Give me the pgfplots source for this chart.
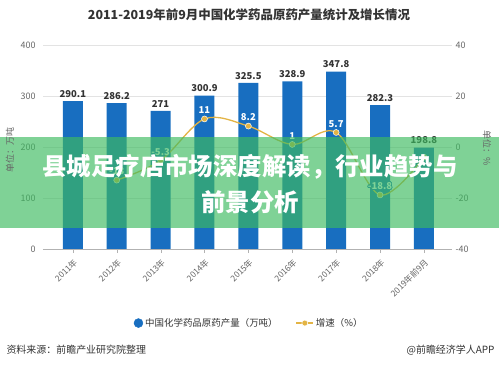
\documentclass[border=0pt]{standalone}
\usepackage{pgfplots}
\pgfplotsset{compat=1.18}
\usepackage{fontspec}
\setmainfont{Noto Sans CJK SC}
\usepackage{contour}
\contourlength{0.7pt}
\definecolor{barblue}{HTML}{186EC0}
\definecolor{linegold}{HTML}{E3B445}
\definecolor{bannergreen}{RGB}{61,187,96}
\definecolor{txtdark}{HTML}{333333}
\definecolor{ticktxt}{HTML}{666666}
\begin{document}
\begin{tikzpicture}
\path[use as bounding box] (0bp,0bp) rectangle (499bp,367bp);
\begin{axis}[
  at={(43bp,118bp)}, anchor=south west, scale only axis,
  width=409bp, height=204bp,
  xmin=-0.68, xmax=8.64, ymin=0, ymax=400,
  ytick={0,100,200,300,400},
  xtick={0,...,8},
  xticklabels={2011年,2012年,2013年,2014年,2015年,2016年,2017年,2018年,2019年前9月},
  x tick label style={rotate=45, anchor=north east, font=\fontsize{8.5}{9}\selectfont, text=ticktxt},
  y tick label style={font=\fontsize{9}{10}\selectfont, text=ticktxt},
  /pgf/number format/assume math mode=true,
  ymajorgrids, grid style={draw=gray!22, line width=0.6bp},
  axis x line*=bottom, axis y line*=left,
  y axis line style={draw=none},
  x axis line style={draw=gray!60, line width=0.8bp},
  ytick style={draw=none},
  xtick style={draw=gray!60},
  tick align=outside, major tick length=4bp,
  ybar, bar width=20bp,
  nodes near coords,
  every node near coord/.append style={font=\bfseries\fontsize{9.5}{10}\selectfont, text=txtdark},
]
\addplot[fill=barblue, draw=none] coordinates {
  (0,290.1) (1,286.2) (2,271) (3,300.9) (4,325.5) (5,328.9) (6,347.8) (7,282.3) (8,198.8)};
\end{axis}
\begin{axis}[
  at={(43bp,118bp)}, anchor=south west, scale only axis,
  width=409bp, height=204bp,
  xmin=-0.68, xmax=8.64, ymin=-40, ymax=40,
  ytick={-40,-20,0,20,40},
  axis y line*=right, axis x line=none,
  y axis line style={draw=none}, ytick style={draw=none},
  y tick label style={font=\fontsize{9}{10}\selectfont, text=ticktxt},
  /pgf/number format/assume math mode=true,
  legend style={at={(0.504,-0.363)}, anchor=center, draw=none, fill=none,
    legend columns=2, font=\fontsize{9.5}{10}\selectfont, text=txtdark,
    /tikz/every even column/.append style={column sep=16bp}},
]
\addlegendimage{legend image code/.code={\fill[barblue] (0.3em,0) circle (4.5bp);}}
\addlegendentry{中国化学药品原药产量（万吨）}
\addplot[color=linegold, line width=1.3bp, smooth, tension=0.55,
  mark=*, mark size=3bp, mark options={fill=linegold, draw=white, line width=0.5bp},
  point meta=explicit symbolic,
  nodes near coords={\contour{barblue}{\textcolor{white}{\pgfplotspointmeta}}},
  every node near coord/.append style={font=\bfseries\fontsize{9.5}{10}\selectfont, anchor=south, yshift=1bp}]
  coordinates {(1,-13) [-13] (2,-5.3) [-5.3] (3,11) [11] (4,8.2) [8.2] (5,1) [1] (6,5.7) [5.7] (7,-18.8) [-18.8] (8,-4) []};
\addlegendentry{增速（\%）}
\end{axis}
% banner
\fill[bannergreen, opacity=0.66] (0bp,139bp) rectangle (499bp,230bp);
\node[text=white, font=\bfseries\fontsize{24.5}{26}\selectfont] at (250bp,200bp) {县城足疗店市场深度解读，行业趋势与};
\node[text=white, font=\bfseries\fontsize{24.5}{26}\selectfont] at (250bp,165bp) {前景分析};
% titles and labels
\node[text=txtdark, font=\bfseries\fontsize{12.5}{14}\selectfont] at (249bp,352bp) {2011-2019年前9月中国化学药品原药产量统计及增长情况};
\node[text=ticktxt, rotate=90, font=\fontsize{9}{10}\selectfont] at (10bp,217bp) {单位：万吨};
\node[text=ticktxt, rotate=-90, font=\fontsize{9}{10}\selectfont] at (487bp,219bp) {单位：\%};
\node[anchor=west, text=txtdark, font=\fontsize{10}{11}\selectfont] at (3bp,17bp) {资料来源：前瞻产业研究院整理};
\node[anchor=east, text=txtdark, font=\fontsize{10}{11}\selectfont] at (498bp,17bp) {@前瞻经济学人APP};
\end{tikzpicture}
\end{document}
